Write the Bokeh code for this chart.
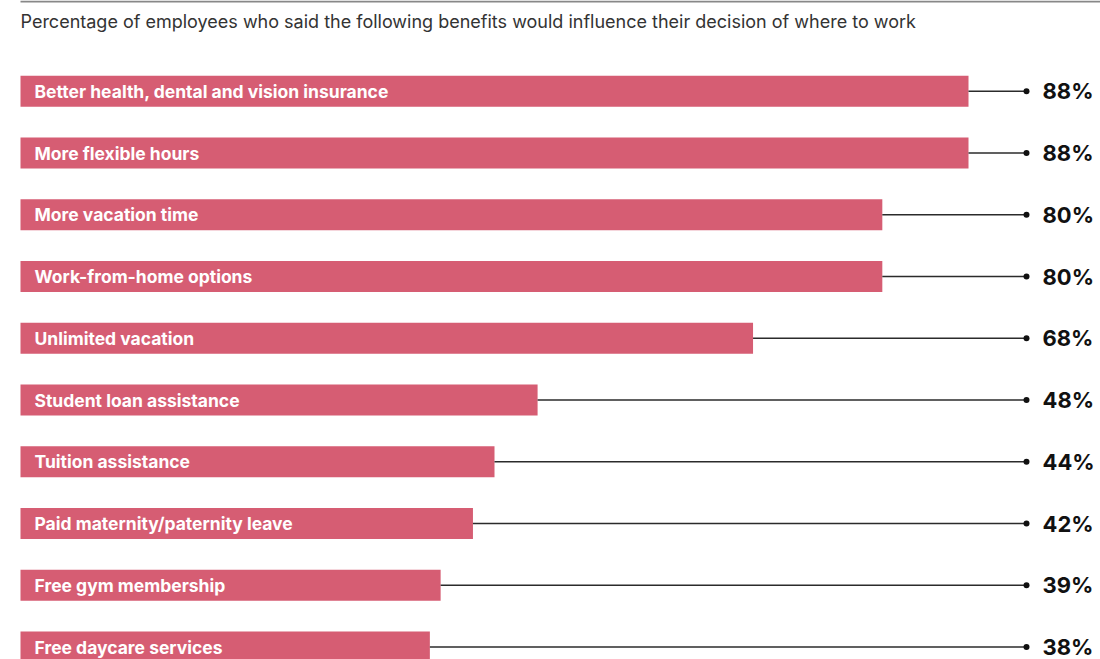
from bokeh.plotting import figure
from bokeh.models import Range1d, ColumnDataSource
from bokeh.core.properties import value
from bokeh.embed import file_html
from bokeh.resources import INLINE

benefits = [
    "Better health, dental and vision insurance",
    "More flexible hours",
    "More vacation time",
    "Work-from-home options",
    "Unlimited vacation",
    "Student loan assistance",
    "Tuition assistance",
    "Paid maternity/paternity leave",
    "Free gym membership",
    "Free daycare services",
]
percent = [88, 88, 80, 80, 68, 48, 44, 42, 39, 38]
subtitle = "Percentage of employees who said the following benefits would influence their decision of where to work"

FONT = "Inter"
W, H = 1100, 659
px_per_unit = 948 / 88.0
left_pad = 20
row_px = 61.75
first_center_px = 90.8

x_start = -left_pad / px_per_unit
x_end = (W - left_pad) / px_per_unit
y_top = first_center_px / row_px
y_bottom = -(H - first_center_px) / row_px

rows = [-i for i in range(len(benefits))]
leader_end = (1026 - left_pad) / px_per_unit
label_x = (1042 - left_pad) / px_per_unit
text_x = 14 / px_per_unit

src = ColumnDataSource(dict(
    y=rows,
    v=percent,
    name=benefits,
    lbl=[f"{p}%" for p in percent],
    lx=[leader_end] * len(rows),
    px=[label_x] * len(rows),
    tx=[text_x] * len(rows),
))

p = figure(width=W, height=H, output_backend="svg", toolbar_location=None,
           x_range=Range1d(x_start, x_end), y_range=Range1d(y_bottom, y_top),
           min_border=0, min_border_left=0, min_border_right=0,
           min_border_top=0, min_border_bottom=0)
p.axis.visible = False
p.grid.visible = False
p.outline_line_color = None
p.background_fill_color = "white"
p.border_fill_color = "white"

bar_h = 31 / row_px
p.hbar(y="y", left=0, right="v", height=bar_h, source=src,
       fill_color="#d65d73", line_color=None)
p.segment(x0="v", y0="y", x1="lx", y1="y", source=src,
          line_color="#2b2b2b", line_width=1.5)
p.scatter(x="lx", y="y", source=src, size=6, fill_color="#111111",
          line_color=None)
p.text(x="tx", y="y", text="name", source=src, text_color="white",
       text_font=value(FONT), text_font_style="bold", text_font_size="17.5px",
       text_baseline="middle", text_align="left")
p.text(x="px", y="y", text="lbl", source=src, text_color="#111111",
       text_font=value(FONT), text_font_style="bold", text_font_size="22px",
       text_baseline="middle", text_align="left")

# subtitle and top rule
sub_y = y_top - 21 / row_px
p.text(x=[0], y=[sub_y], text=[subtitle], text_color="#333333",
       text_font=value(FONT), text_font_size="18px",
       text_baseline="middle", text_align="left")
rule_y = y_top - 1 / row_px
p.segment(x0=[0], y0=[rule_y], x1=[x_end], y1=[rule_y],
          line_color="#888888", line_width=2)

open("out.html", "w").write(file_html(p, INLINE))
